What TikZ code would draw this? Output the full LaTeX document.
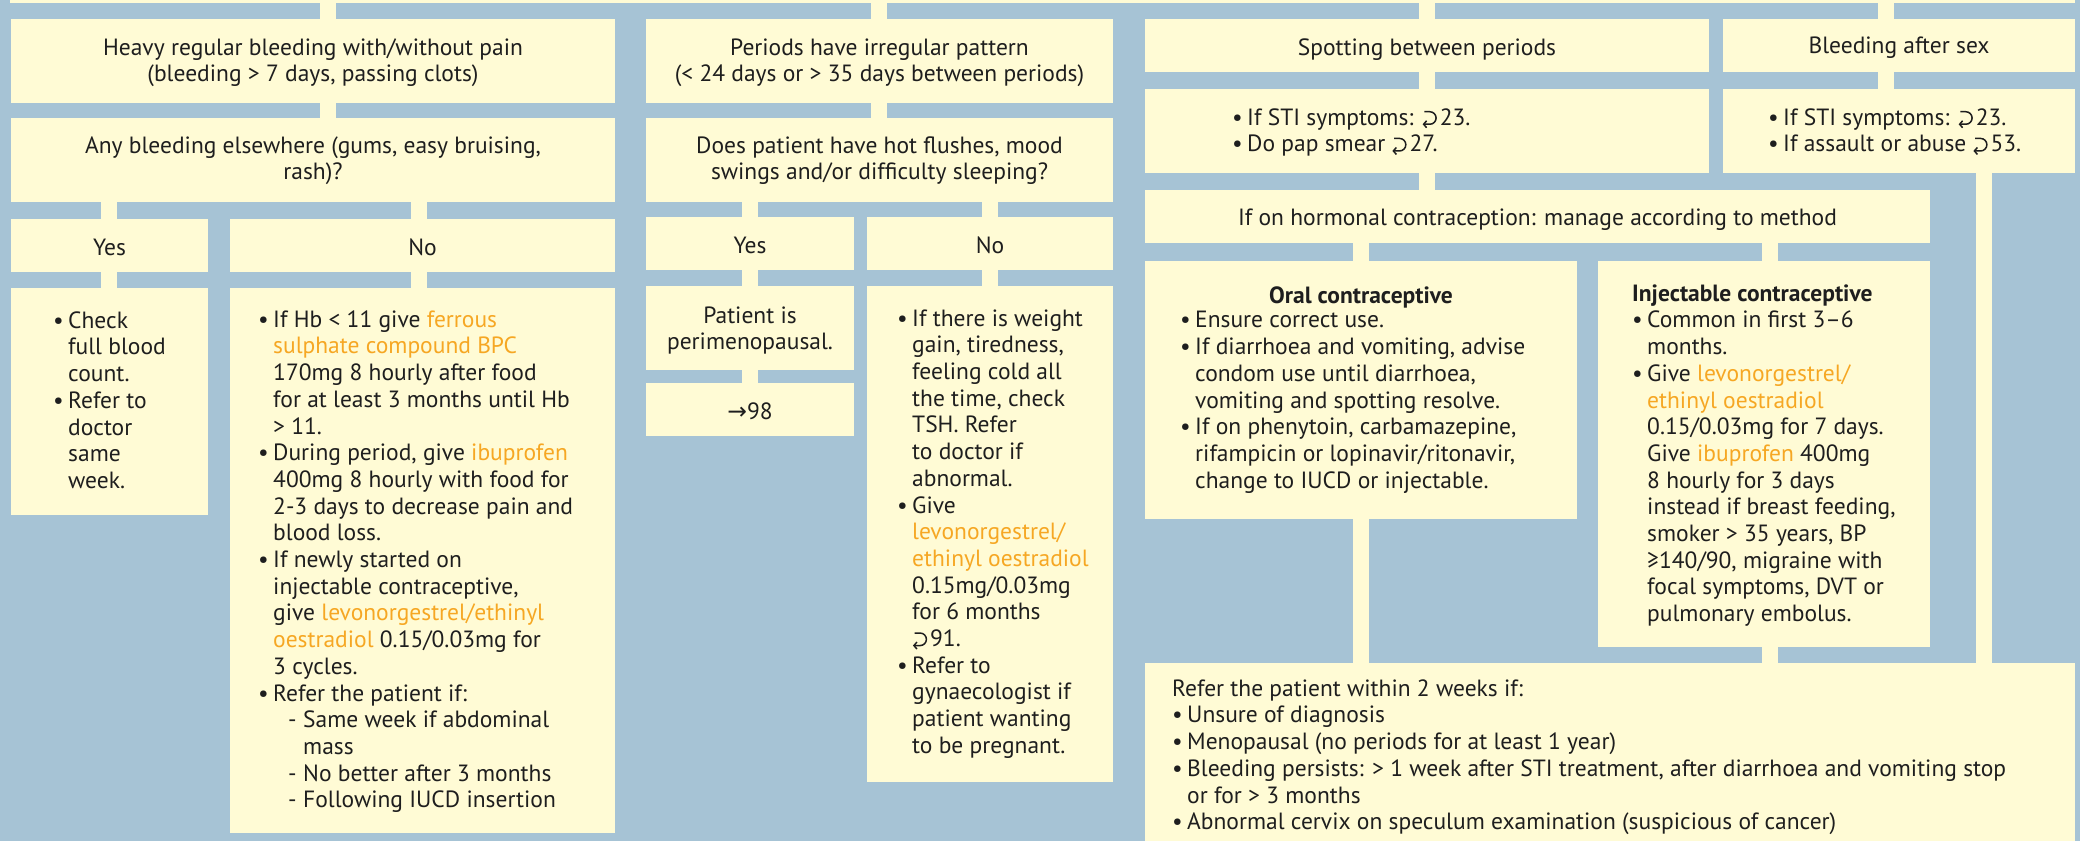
\documentclass[tikz,border=0pt]{standalone}
\usepackage{fontspec}
\setmainfont{PT Sans}
\newfontfamily\arrowfont{DejaVu Sans}
\usetikzlibrary{arrows.meta}

\definecolor{bgblue}{RGB}{166,195,213}
\definecolor{cream}{RGB}{255,251,213}
\definecolor{medorange}{RGB}{246,167,35}
\definecolor{ink}{RGB}{30,30,30}

\newcommand\mainsz{\fontsize{23.5}{26.7}\selectfont}
\newcommand\med[1]{\textcolor{medorange}{#1}}
\newcommand\bu{\makebox[15pt][l]{\textbullet}}
\newcommand\ii{\hspace*{15pt}}
\newcommand\subi{\hspace*{30pt}\makebox[15pt][l]{-}}
\newcommand\subii{\hspace*{45pt}}
% page-reference mark: a hooked arrow pointing back to the left
\newcommand\refmark{\tikz[baseline=0pt,x=1pt,y=1pt]{\draw[ink,line width=1.5pt,-{Straight Barb[length=3pt,width=7pt]}] (2,13.5) -- (7.5,13.5) arc[start angle=90,end angle=-90,radius=6.25] -- (0.3,1);}\hspace{3pt}}
% a cream panel given by its name and corners (x1,y1) (x2,y2)
\newcommand\panel[5]{\node[panel,minimum width=#4pt-#2pt,minimum height=#5pt-#3pt] (#1) at (#2,#3) {};}

\begin{document}
\begin{tikzpicture}[x=1pt,y=-1pt,
  panel/.style={rectangle,fill=cream,draw=none,inner sep=0pt,outer sep=0pt,anchor=north west},
  conn/.style={draw=cream,line width=16pt,shorten <=-1pt,shorten >=-1pt},
  ctext/.style={inner sep=0pt,anchor=north,align=center,font=\mainsz,text=ink,execute at begin node={\strut},yshift=18.69pt},
  ltext/.style={inner sep=0pt,anchor=north west,align=left,font=\mainsz,text=ink,execute at begin node={\strut},yshift=18.69pt}]

\fill[bgblue] (0,0) rectangle (2080,841);
\useasboundingbox (0,0) rectangle (2080,841);

% panels
\panel{top}{10}{0}{2075}{3}
\panel{h1}{11}{19}{615}{103}
\panel{h2}{11}{118}{615}{202}
\panel{yes1}{11}{219}{208}{272}
\panel{no1}{230}{219}{615}{272}
\panel{yes1d}{11}{288}{208}{515}
\panel{no1d}{230}{288}{615}{833}
\panel{p1}{646}{19}{1113}{103}
\panel{p2}{646}{118}{1113}{202}
\panel{yes2}{646}{217}{854}{270}
\panel{no2}{867}{217}{1113}{270}
\panel{peri}{646}{286}{854}{370}
\panel{p98}{646}{383}{854}{436}
\panel{no2d}{867}{286}{1113}{782}
\panel{spot}{1145}{19}{1709}{72}
\panel{sex}{1723}{19}{2075}{72}
\panel{sti}{1145}{89}{1709}{173}
\panel{sexd}{1723}{89}{2075}{173}
\panel{hor}{1145}{190}{1930}{243}
\panel{oral}{1145}{261}{1577}{519}
\panel{inj}{1598}{261}{1930}{647}
\panel{ref}{1145}{663}{2075}{841}

% connector lanes
\coordinate (k109) at (109,0);
\coordinate (k328) at (328,0);
\coordinate (k419) at (419,0);
\coordinate (k750) at (750,0);
\coordinate (k879) at (879,0);
\coordinate (k990) at (990,0);
\coordinate (k1361) at (1361,0);
\coordinate (k1427) at (1427,0);
\coordinate (k1770) at (1770,0);
\coordinate (k1886) at (1886,0);
\coordinate (k1984) at (1984,0);

\draw[conn] (top.south -| k328) -- (h1.north -| k328);
\draw[conn] (h1.south -| k328) -- (h2.north -| k328);
\draw[conn] (h2.south -| k109) -- (yes1.north -| k109);
\draw[conn] (h2.south -| k419) -- (no1.north -| k419);
\draw[conn] (yes1.south -| k109) -- (yes1d.north -| k109);
\draw[conn] (no1.south -| k419) -- (no1d.north -| k419);

\draw[conn] (top.south -| k879) -- (p1.north -| k879);
\draw[conn] (p1.south -| k879) -- (p2.north -| k879);
\draw[conn] (p2.south -| k750) -- (yes2.north -| k750);
\draw[conn] (p2.south -| k990) -- (no2.north -| k990);
\draw[conn] (yes2.south -| k750) -- (peri.north -| k750);
\draw[conn] (peri.south -| k750) -- (p98.north -| k750);
\draw[conn] (no2.south -| k990) -- (no2d.north -| k990);

\draw[conn] (top.south -| k1427) -- (spot.north -| k1427);
\draw[conn] (spot.south -| k1427) -- (sti.north -| k1427);
\draw[conn] (sti.south -| k1427) -- (hor.north -| k1427);
\draw[conn] (top.south -| k1886) -- (sex.north -| k1886);
\draw[conn] (sex.south -| k1886) -- (sexd.north -| k1886);
\draw[conn] (sexd.south -| k1984) -- (ref.north -| k1984);
\draw[conn] (hor.south -| k1361) -- (oral.north -| k1361);
\draw[conn] (hor.south -| k1770) -- (inj.north -| k1770);
\draw[conn] (oral.south -| k1361) -- (ref.north -| k1361);
\draw[conn] (inj.south -| k1770) -- (ref.north -| k1770);

% texts, column 1
\node[ctext] (h1t) at (313,57) {Heavy regular bleeding with/without pain\\(bleeding > 7 days, passing clots)};
\node[ctext] (h2t) at (313,155) {Any bleeding elsewhere (gums, easy bruising,\\rash)?};
\node[ctext] (yes1t) at (109.5,255) {Yes};
\node[ctext] (no1t) at (422.5,255) {No};
\node[ltext] (yes1dt) at (53,330) {\bu Check\\\ii full blood\\\ii count.\\\bu Refer to\\\ii doctor\\\ii same\\\ii week.};
\node[ltext] (no1dt) at (258,329) {\bu If Hb < 11 give \med{ferrous}\\
\ii\med{sulphate compound BPC}\\
\ii 170mg 8 hourly after food\\
\ii for at least 3 months until Hb\\
\ii > 11.\\
\bu During period, give \med{ibuprofen}\\
\ii 400mg 8 hourly with food for\\
\ii 2-3 days to decrease pain and\\
\ii blood loss.\\
\bu If newly started on\\
\ii injectable contraceptive,\\
\ii give \med{levonorgestrel/ethinyl}\\
\ii\med{oestradiol} 0.15/0.03mg for\\
\ii 3 cycles.\\
\bu Refer the patient if:\\
\subi Same week if abdominal\\
\subii mass\\
\subi No better after 3 months\\
\subi Following IUCD insertion};

% texts, column 2
\node[ctext] (p1t) at (879.5,57) {Periods have irregular pattern\\(< 24 days or > 35 days between periods)};
\node[ctext] (p2t) at (879.5,155) {Does patient have hot flushes, mood\\swings and/or difficulty sleeping?};
\node[ctext] (yes2t) at (750,253) {Yes};
\node[ctext] (no2t) at (990,253) {No};
\node[ctext] (perit) at (750,325) {Patient is\\perimenopausal.};
\node[ctext] (p98t) at (750,419) {{\arrowfont →}98};
\node[ltext] (no2dt) at (897,328) {\bu If there is weight\\
\ii gain, tiredness,\\
\ii feeling cold all\\
\ii the time, check\\
\ii TSH. Refer\\
\ii to doctor if\\
\ii abnormal.\\
\bu Give\\
\ii\med{levonorgestrel/}\\
\ii\med{ethinyl oestradiol}\\
\ii 0.15mg/0.03mg\\
\ii for 6 months\\
\ii\refmark 91.\\
\bu Refer to\\
\ii gynaecologist if\\
\ii patient wanting\\
\ii to be pregnant.};

% texts, column 3
\node[ctext] (spott) at (1427,55) {Spotting between periods};
\node[ctext] (sext) at (1899,53) {Bleeding after sex};
\node[ltext] (stit) at (1232,127) {\bu If STI symptoms: \refmark 23.\\\bu Do pap smear \refmark 27.};
\node[ltext] (sexdt) at (1768,127) {\bu If STI symptoms: \refmark 23.\\\bu If assault or abuse \refmark 53.};
\node[ctext] (hort) at (1537.5,225) {If on hormonal contraception: manage according to method};
\node[ctext] (oralhd) at (1361,303) {\textbf{Oral contraceptive}};
\node[ltext] (oralt) at (1180,330) {\bu Ensure correct use.\\
\bu If diarrhoea and vomiting, advise\\
\ii condom use until diarrhoea,\\
\ii vomiting and spotting resolve.\\
\bu If on phenytoin, carbamazepine,\\
\ii rifampicin or lopinavir/ritonavir,\\
\ii change to IUCD or injectable.};
\node[ltext] (injt) at (1632,303) {\textbf{Injectable contraceptive}\\
\bu Common in first 3–6\\
\ii months.\\
\bu Give \med{levonorgestrel/}\\
\ii\med{ethinyl oestradiol}\\
\ii 0.15/0.03mg for 7 days.\\
\ii Give \med{ibuprofen} 400mg\\
\ii 8 hourly for 3 days\\
\ii instead if breast feeding,\\
\ii smoker > 35 years, BP\\
\ii ≥140/90, migraine with\\
\ii focal symptoms, DVT or\\
\ii pulmonary embolus.};
\node[ltext] (reft) at (1172,698) {Refer the patient within 2 weeks if:\\
\bu Unsure of diagnosis\\
\bu Menopausal (no periods for at least 1 year)\\
\bu Bleeding persists: > 1 week after STI treatment, after diarrhoea and vomiting stop\\
\ii or for > 3 months\\
\bu Abnormal cervix on speculum examination (suspicious of cancer)};
\end{tikzpicture}
\end{document}
